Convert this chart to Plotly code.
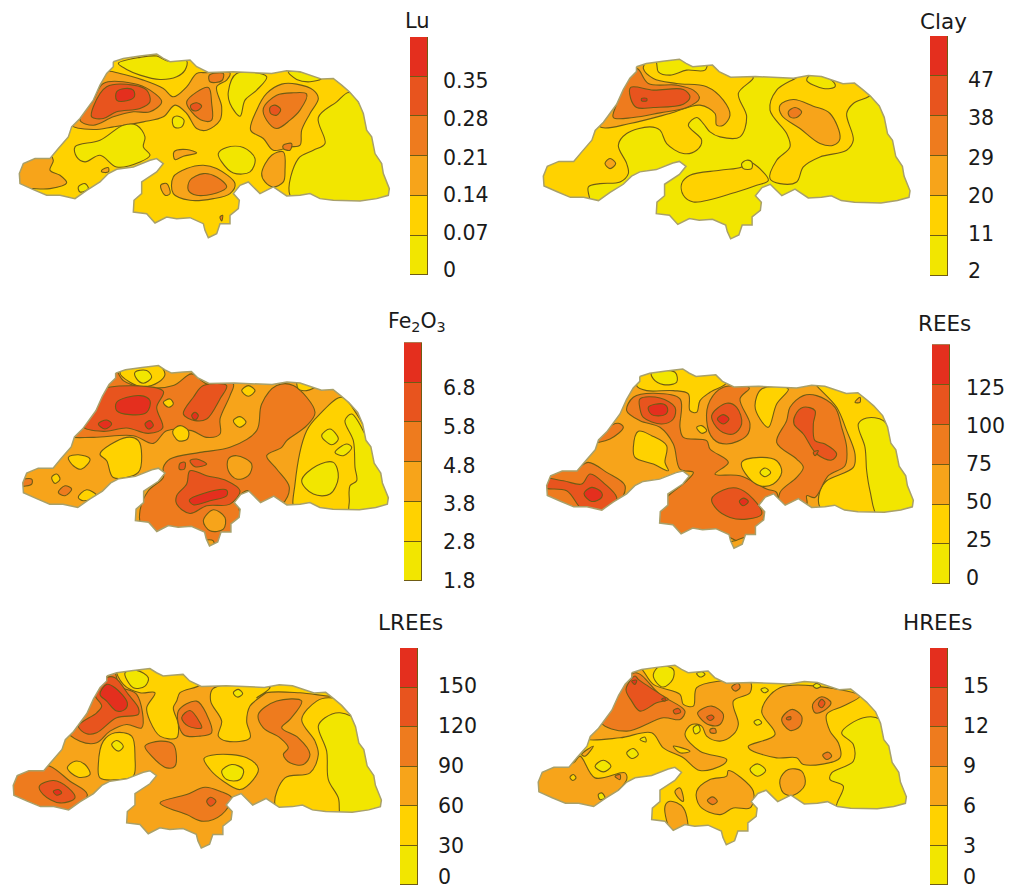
import plotly.graph_objects as go

W, H = 1024, 892
LEVEL_COLORS = ["#F2E600", "#FFD200", "#F7A41A", "#EE7B1E", "#E8541E", "#E42F1E"]
LINE_COLOR = "#6f5c14"
EDGE_COLOR = "#a8a06a"
TEXT = "#1a1a1a"
FONT = "DejaVu Sans"

OUTLINE = [(340,95),(370,85),(420,78),(470,72),(490,85),(510,95),(545,92),(570,90),(590,110),(625,127),(700,125),(760,128),(815,130),
(860,122),(900,125),(965,147),(1000,145),(1025,165),(1048,185),(1075,215),(1090,250),(1100,300),(1115,320),(1125,370),(1145,400),
(1150,430),(1168,475),(1165,495),(1130,505),(1080,512),(1040,512),(1000,510),(960,505),(930,490),(900,495),(860,497),(820,470),
(780,490),(760,470),(745,455),(720,465),(700,490),(718,510),(715,535),(690,555),(690,580),(660,580),(650,610),(625,622),(615,600),
(610,580),(570,562),(530,565),(500,560),(465,578),(440,550),(400,545),(402,510),(425,490),(425,455),(470,425),(490,400),(470,385),
(450,390),(400,410),(350,417),(325,430),(300,455),(260,480),(225,505),(180,495),(140,495),(100,478),(60,460),(58,430),(70,400),
(105,385),(150,385),(175,355),(205,320),(215,290),(240,265),(280,210),(300,165),(320,130),(340,110)]

MAP_LU = [
(0,[(355,100),(420,82),(470,78),(500,92),(560,92),(555,120),(530,140),(480,148),(420,135),(380,118)]),
(2,[(320,125),(360,130),(430,150),(490,175),(520,200),(560,170),(590,130),(620,128),(690,128),(680,150),(650,170),(665,230),(660,270),(620,300),(590,295),(560,250),(525,225),(490,260),(430,275),(340,290),(280,298),(215,285),(260,230),(300,160)]),
(3,[(310,160),(400,160),(450,180),(485,215),(450,245),(400,245),(340,260),(280,285),(240,270),(280,210)]),
(4,[(320,170),(400,165),(440,180),(450,215),(420,235),(350,245),(310,265),(275,260),(280,230)]),
(5,[(350,185),(375,175),(400,180),(403,200),(380,212),(350,210)]),
(3,[(560,215),(625,172),(635,220),(635,270),(610,272),(575,245)]),
(4,[(572,225),(590,218),(605,228),(590,242),(575,238)]),
(3,[(628,135),(670,130),(665,152),(630,155)]),
(0,[(517,275),(520,262),(535,258),(552,270),(545,290),(525,292)]),
(0,[(710,130),(800,140),(770,180),(735,210),(720,258),(690,220),(685,185)]),
(0,[(865,125),(900,125),(965,145),(930,155),(890,148)]),
(2,[(845,162),(890,162),(940,180),(955,205),(930,250),(905,300),(900,345),(870,350),(820,360),(790,325),(752,300),(770,240),(800,190)]),
(3,[(830,195),(880,188),(920,192),(900,240),(870,270),(830,295),(800,270),(790,235)]),
(4,[(810,232),(825,225),(842,238),(830,255),(812,250)]),
(3,[(850,345),(875,340),(870,360),(850,355)]),
(0,[(1048,187),(1010,215),(955,262),(975,340),(940,360),(895,385),(870,495),(930,530),(1100,540),(1190,500),(1150,380),(1100,260)]),
(0,[(225,350),(300,330),(370,285),(410,285),(435,320),(430,350),(450,375),(420,395),(350,410),(300,375),(255,395),(230,380)]),
(2,[(522,365),(560,358),(590,368),(550,378),(525,388)]),
(0,[(655,370),(680,352),(730,352),(765,385),(750,425),(700,428),(665,395)]),
(2,[(40,440),(100,375),(150,375),(160,390),(150,420),(180,435),(200,458),(150,475),(100,475),(50,470)]),
(2,[(305,420),(325,412),(325,425),(305,425)]),
(0,[(235,470),(255,460),(265,475),(240,485)]),
(2,[(520,440),(560,415),(610,405),(650,415),(705,460),(690,490),(640,505),(570,510),(520,490)]),
(3,[(570,450),(610,430),(650,440),(680,470),(650,488),(590,495),(565,480)]),
(2,[(785,430),(815,375),(850,365),(855,420),(850,455),(820,470),(795,455)]),
(2,[(482,465),(500,460),(510,490),(495,495)]),
(3,[(660,560),(668,555),(665,572)]),
]

MAP_CLAY = [
(1,[(380,80),(408,95),(415,125),(450,135),(500,120),(555,120),(570,85),(620,130),(700,142),(655,190),(680,260),(660,320),(600,320),(570,305),(550,280),(530,262),(505,285),(545,330),(530,360),(490,370),(440,340),(420,300),(390,290),(320,310),(295,345),(320,400),(325,430),(300,455),(240,460),(205,470),(210,530),(120,510),(40,480),(50,380),(100,360),(150,380),(240,250),(290,170),(340,90)]),
(2,[(340,100),(380,85),(370,115),(400,145),(470,160),(560,170),(610,210),(630,255),(610,285),(590,285),(585,250),(540,225),(450,250),(330,280),(245,292),(225,270),(280,190)]),
(3,[(350,115),(385,160),(470,165),(520,180),(538,205),(500,232),(420,248),(340,262),(280,262),(290,220),(300,170)]),
(4,[(332,172),(400,180),(490,178),(510,200),(490,222),(400,232),(350,232),(332,205)]),
(5,[(365,205),(380,205),(380,212),(365,212)]),
(1,[(830,142),(860,120),(950,140),(1000,145),(1060,185),(1045,200),(1000,220),(980,250),(1000,330),(980,360),(900,380),(850,410),(830,455),(780,460),(750,445),(770,390),(810,350),(800,310),(750,240),(770,180)]),
(0,[(860,150),(880,130),(940,155),(945,170),(910,175)]),
(2,[(780,225),(820,208),(880,228),(930,250),(960,325),(940,345),(900,340),(840,295),(785,255)]),
(3,[(805,245),(825,232),(845,245),(830,262),(810,260)]),
(2,[(255,400),(270,385),(287,400),(270,415)]),
(1,[(510,435),(600,420),(665,410),(680,395),(700,400),(745,450),(710,465),(650,485),(520,515),(490,495),(485,460)]),
(0,[(665,400),(680,390),(695,395),(695,415),(670,415)]),
]

MAP_FE = [
(1,[(360,95),(470,70),(495,100),(475,125),(430,138),(390,125)]),
(0,[(405,95),(440,90),(455,110),(430,128),(410,115)]),
(3,[(340,80),(370,120),(430,140),(520,135),(575,100),(620,130),(700,130),(690,165),(660,235),(660,280),(620,290),(575,270),(500,270),(460,308),(400,285),(280,290),(205,285),(270,220),(300,150)]),
(4,[(300,150),(490,152),(470,200),(488,262),(445,278),(380,262),(310,272),(250,258),(290,200)]),
(5,[(350,185),(420,165),(450,180),(440,215),(390,222),(350,210)]),
(5,[(295,250),(320,238),(335,250),(315,265)]),
(5,[(435,250),(450,240),(460,255),(445,265)]),
(1,[(490,185),(510,175),(520,190),(505,200)]),
(4,[(610,135),(680,135),(660,175),(620,235),(585,240),(550,220),(580,170)]),
(5,[(575,225),(585,215),(595,225),(585,238)]),
(1,[(725,150),(745,135),(765,150),(745,167)]),
(1,[(700,240),(720,228),(738,245),(718,260)]),
(1,[(518,272),(540,255),(565,270),(562,295),(535,300)]),
(3,[(830,135),(880,135),(945,215),(920,255),(860,300),(845,320),(800,345),(830,385),(868,440),(845,490),(760,490),(745,450),(715,470),(720,530),(700,590),(640,630),(600,620),(600,590),(540,570),(470,590),(425,560),(420,510),(445,450),(490,410),(490,380),(510,355),(600,335),(690,320),(770,270),(785,190)]),
(2,[(685,355),(710,345),(755,370),(745,405),(710,415),(685,390)]),
(4,[(570,390),(620,405),(680,420),(720,450),(690,490),(620,495),(570,518),(530,490),(530,465),(560,430)]),
(5,[(568,478),(610,458),(680,448),(680,465),(630,480),(580,492)]),
(2,[(610,540),(640,507),(675,530),(670,565),(630,570)]),
(4,[(540,368),(555,365),(553,385),(538,385)]),
(4,[(570,360),(590,355),(620,370),(585,378)]),
(2,[(615,600),(640,600),(640,625),(615,625)]),
(1,[(300,340),(380,290),(415,300),(425,345),(415,395),(340,410),(320,360)]),
(1,[(205,350),(235,342),(270,355),(245,385),(220,375)]),
(1,[(155,410),(170,400),(180,415),(165,428)]),
(3,[(175,455),(195,435),(215,445),(195,465)]),
(1,[(235,470),(260,447),(290,465),(250,480)]),
(3,[(60,420),(95,415),(95,430),(60,435)]),
(1,[(1025,170),(1070,220),(1110,300),(1130,380),(1190,480),(1100,530),(960,530),(885,510),(885,430),(920,270),(960,220)]),
(0,[(1035,240),(1055,220),(1095,280),(1115,320),(1145,400),(1190,485),(1130,520),(1050,520),(1048,480),(1050,435),(1070,420),(1065,380),(1060,300)]),
(0,[(905,420),(950,375),(1000,365),(1015,410),(990,460),(940,460)]),
(0,[(965,285),(990,265),(1015,295),(995,312)]),
(0,[(1005,335),(1040,310),(1055,320),(1030,345)]),
(1,[(893,115),(950,135),(920,150),(895,145)]),
]

MAP_REE = [
(1,[(350,135),(385,80),(480,75),(510,90),(570,80),(620,125),(570,155),(540,180),(530,215),(510,210),(505,160),(460,150),(380,150)]),
(0,[(395,95),(465,95),(470,125),(430,132),(400,115)]),
(3,[(320,210),(340,170),(400,158),(480,175),(480,260),(490,290),(560,300),(570,325),(625,365),(585,400),(660,405),(740,445),(770,455),(770,490),(735,520),(715,600),(650,600),(630,590),(570,570),(520,570),(485,600),(470,570),(400,560),(420,500),(440,470),(500,420),(520,395),(480,385),(460,310),(420,260),(360,240)]),
(4,[(360,175),(420,172),(465,200),(460,235),(425,250),(370,230),(360,205)]),
(5,[(385,200),(430,190),(443,205),(435,222),(395,222)]),
(3,[(610,140),(688,142),(660,175),(690,250),(680,285),(620,310),(580,295),(560,240),(570,180)]),
(4,[(575,225),(620,188),(650,200),(665,250),(640,280),(600,270)]),
(5,[(592,235),(610,222),(627,235),(610,250)]),
(1,[(530,260),(545,255),(560,270),(545,278)]),
(1,[(725,145),(805,145),(770,190),(745,260),(720,235),(705,195)]),
(1,[(880,120),(905,120),(945,140),(1020,140),(1120,240),(1130,310),(1150,370),(1200,490),(1100,540),(950,530),(900,500),(900,450),(920,420),(1000,380),(1005,340),(980,270),(950,200)]),
(3,[(850,165),(890,165),(945,200),(965,260),(980,320),(975,375),(925,405),(885,470),(860,465),(860,490),(780,490),(780,455),(830,410),(850,380),(830,355),(770,305),(800,240),(810,200)]),
(4,[(825,225),(850,200),(885,210),(880,250),(885,300),(915,310),(950,340),(935,358),(890,340),(850,280),(822,250)]),
(4,[(880,335),(895,330),(885,345)]),
(0,[(1015,250),(1040,232),(1090,240),(1130,310),(1150,370),(1200,490),(1130,530),(1075,530),(1050,450),(1040,390),(1035,320)]),
(2,[(1005,185),(1020,170),(1020,185)]),
(1,[(340,320),(355,272),(395,285),(440,315),(435,365),(445,390),(400,370),(345,350)]),
(3,[(215,305),(255,265),(295,248),(310,260),(270,295)]),
(3,[(70,415),(130,375),(165,385),(205,365),(260,395),(315,435),(295,490),(250,520),(170,520),(120,500),(65,470)]),
(4,[(70,415),(130,420),(185,430),(210,400),(255,430),(290,470),(280,495),(220,515),(185,505),(140,450),(70,440)]),
(5,[(192,458),(215,440),(245,455),(245,470),(215,482)]),
(4,[(575,475),(610,448),(650,442),(700,475),(725,520),(680,535),(630,530),(590,505)]),
(5,[(658,482),(670,472),(685,482),(670,495)]),
(1,[(665,365),(720,350),(770,360),(785,395),(760,430),(720,435),(685,410)]),
(0,[(720,395),(735,382),(752,395),(735,408)]),
(2,[(620,610),(650,598),(700,585),(690,630),(620,630)]),
]

MAP_LREE = [
(1,[(350,50),(440,35),(470,60),(530,50),(600,100),(540,125),(530,150),(520,170),(535,220),(530,260),(480,255),(450,210),(440,170),(465,125),(420,125),(370,100)]),
(0,[(375,65),(410,58),(445,80),(435,105),(400,110)]),
(3,[(320,65),(340,55),(360,105),(410,130),(425,230),(380,220),(330,240),(290,275),(240,270),(200,235),(270,150),(290,120)]),
(4,[(320,80),(345,80),(385,130),(415,170),(415,190),(350,200),(290,245),(260,248),(235,225),(290,185),(305,165),(285,130)]),
(5,[(300,130),(320,100),(345,110),(382,155),(375,175),(350,180),(320,150)]),
(3,[(535,180),(590,150),(620,190),(635,245),(600,255),(550,250)]),
(4,[(545,200),(570,178),(600,215),(605,230),(565,225)]),
(1,[(640,112),(810,110),(750,165),(740,210),(750,260),(680,270),(655,255),(665,210),(632,150)]),
(0,[(700,125),(715,115),(728,128),(712,138)]),
(3,[(775,190),(830,150),(905,150),(870,205),(845,230),(895,260),(930,310),(910,340),(870,335),(850,310),(865,290),(840,260),(790,230)]),
(1,[(810,110),(810,85),(880,85),(1000,135),(900,125),(800,125),(770,140)]),
(1,[(985,140),(1040,155),(1080,200),(1120,340),(1165,465),(1100,510),(950,510),(860,490),(825,460),(855,380),(930,365),(955,310),(945,270),(905,205),(950,150)]),
(0,[(955,225),(975,200),(1020,185),(1080,215),(1095,290),(1120,340),(1165,465),(1090,505),(1025,505),(1015,440),(985,385),(980,300)]),
(1,[(295,340),(310,270),(345,245),(395,255),(405,320),(400,375),(360,385),(300,380)]),
(0,[(335,280),(350,268),(370,285),(355,300)]),
(1,[(202,350),(225,330),(255,340),(270,370),(235,378)]),
(3,[(435,285),(480,270),(520,280),(525,345),(500,350),(455,315)]),
(3,[(150,345),(210,390),(262,430),(215,480),(140,490),(20,440),(35,375),(100,340)]),
(4,[(118,405),(160,388),(205,410),(225,440),(180,455),(130,430)]),
(5,[(160,420),(175,415),(185,425),(170,432)]),
(3,[(480,455),(560,430),(615,408),(660,420),(695,440),(665,490),(610,510),(560,490)]),
(4,[(620,450),(632,438),(648,450),(632,465)]),
(1,[(612,322),(650,310),(740,320),(775,352),(760,385),(720,415),(670,390),(630,355)]),
(0,[(665,360),(695,340),(730,355),(720,385),(680,385)]),
]

MAP_HREE = [
(0,[(400,70),(420,45),(460,55),(458,85),(430,108),(410,95)]),
(2,[(335,50),(360,50),(400,100),(480,130),(490,160),(520,165),(530,110),(600,90),(690,90),(690,125),(640,150),(655,220),(640,250),(600,270),(560,255),(545,225),(515,220),(495,250),(540,300),(620,325),(610,340),(540,358),(490,320),(430,290),(395,245),(300,260),(195,262),(200,240),(280,140)]),
(1,[(460,285),(510,300),(480,305)]),
(3,[(345,65),(420,130),(495,180),(480,205),(430,200),(320,240),(245,215),(280,150)]),
(4,[(345,75),(355,85),(430,135),(445,145),(410,155),(360,180),(335,150),(318,115)]),
(5,[(335,90),(350,88),(345,100)]),
(5,[(425,145),(435,140),(435,150)]),
(4,[(460,178),(475,172),(482,183),(465,188)]),
(3,[(533,185),(575,165),(610,190),(600,220),(570,222),(540,200)]),
(4,[(560,198),(575,192),(582,200),(570,208)]),
(3,[(570,235),(585,232),(588,245),(572,245)]),
(3,[(635,108),(655,97),(660,110),(645,120)]),
(0,[(520,230),(535,222),(540,240),(525,248)]),
(2,[(780,110),(980,120),(1020,135),(970,165),(920,190),(930,240),(955,275),(960,320),(850,340),(830,320),(770,320),(690,295),(685,285),(765,250),(725,180)]),
(3,[(785,205),(815,175),(845,195),(840,225),(810,238)]),
(4,[(800,200),(812,197),(812,205),(800,205)]),
(3,[(878,160),(905,137),(933,155),(910,180),(885,185)]),
(4,[(895,160),(905,145),(915,155),(905,170)]),
(3,[(908,312),(925,303),(935,315),(920,325)]),
(2,[(780,385),(805,355),(845,360),(855,400),(820,432),(790,425)]),
(0,[(965,245),(1030,200),(1080,205),(1120,300),(1180,480),(1030,490),(950,470),(970,405),(930,385),(935,365),(1000,330),(1000,280)]),
(2,[(35,400),(80,335),(160,335),(180,315),(225,380),(315,365),(320,385),(270,440),(200,490),(130,470),(40,430)]),
(2,[(185,310),(220,285),(195,315)]),
(0,[(225,345),(250,327),(273,345),(250,362)]),
(0,[(320,305),(340,292),(355,310),(335,322)]),
(0,[(690,355),(712,338),(737,358),(712,375)]),
(0,[(360,265),(375,258),(378,272)]),
(1,[(150,378),(160,370),(168,380),(158,388)]),
(3,[(285,375),(300,370),(300,385)]),
(0,[(235,430),(245,425),(255,440),(240,445)]),
(2,[(530,420),(570,385),(620,375),(625,358),(700,420),(690,470),(640,470),(600,490),(540,465)]),
(3,[(562,448),(578,437),(592,450),(578,460)]),
(2,[(435,465),(450,450),(490,470),(500,550),(460,550)]),
(2,[(465,420),(480,410),(490,450),(475,440)]),
(0,[(702,212),(715,205),(725,215),(710,222)]),
(0,[(723,115),(735,110),(745,118),(733,125)]),
(0,[(530,67),(545,62),(555,70),(540,78)]),
(0,[(880,105),(890,97),(902,105),(890,112)]),
]

TITLES = ["Lu", "Clay", "Fe<sub>2</sub>O<sub>3</sub>", "REEs", "LREEs", "HREEs"]
TICK_LABELS = [["0","0.07","0.14","0.21","0.28","0.35"],["2","11","20","29","38","47"],["1.8","2.8","3.8","4.8","5.8","6.8"],
               ["0","25","50","75","100","125"],["0","30","60","90","120","150"],["0","3","6","9","12","15"]]
TICK_POS = [[0.13,1.06,2.02,2.97,3.95,4.91],[0.15,1.07,2.02,2.97,3.95,4.9],[0.0,0.98,1.94,2.9,3.88,4.87],
            [0.15,1.1,2.06,3.02,3.97,4.92],[0.22,1.01,2.0,3.01,4.03,5.04],[0.22,1.01,2.0,3.01,4.03,5.04]]
SEGMENTS = [1, 1, 1, 1, 1, 1]
MAPS = [MAP_LU, MAP_CLAY, MAP_FE, MAP_REE, MAP_LREE, MAP_HREE]
BASE_LEVEL = [1, 0, 2, 2, 2, 1]

# layout constants, px of the photographed page
OFF = 8
VSCALE = 0.985
PANEL_ORIGIN = [(0,30),(520,30),(0,340),(520,340),(0,650),(520,650)]
OUTLINE_FIT = [(1,0,1,0),(0.991,12.5,0.978,17),(0.988,11,0.982,4.3),(0.991,22.5,0.976,15),(0.995,-18,0.978,-18),(0.995,-3,0.978,-28)]
BAR_RECT = [(410,428,37,275),(930,948,36,276),(404,422,342,580),(932,950,344,583),(400,418,647,884),(930,948,647,884)]
STANDOFF = [14,19,20,15,19,14]
TITLE_POS = [(417,21),(943,21),(417,322),(944,323),(410,622),(937,622)]
TITLE_SIZE = [21, 21.5, 20.5, 21.5, 21.5, 21.5]

def PX(x): return (x - OFF) / W
def PY(y): return 1 - (y - OFF) / (VSCALE * H)

fig = go.Figure()
layout = {}
annots = []

def ax(i): return ("" if i == 1 else str(i))

for p in range(6):
    m = 2 * p + 1
    b = 2 * p + 2
    ox, oy = PANEL_ORIGIN[p]
    left = max(ox, OFF)
    layout[f"xaxis{ax(m)}"] = dict(domain=[PX(left), PX(ox+400)], range=[(left-ox)*3,1200], visible=False, anchor=f"y{ax(m)}", fixedrange=True)
    layout[f"yaxis{ax(m)}"] = dict(domain=[PY(oy+220), PY(oy)], range=[660,0], visible=False, anchor=f"x{ax(m)}", fixedrange=True)
    sx, dx, sy, dy = OUTLINE_FIT[p]
    ol = [(sx*x+dx, sy*y+dy) for x, y in OUTLINE]
    olx = [q[0] for q in ol] + [ol[0][0]]
    oly = [q[1] for q in ol] + [ol[0][1]]
    xa, ya = f"x{ax(m)}", f"y{ax(m)}"
    fig.add_trace(go.Scatter(x=olx, y=oly, mode="lines", fill="toself", fillcolor=LEVEL_COLORS[BASE_LEVEL[p]],
                             line=dict(width=0), xaxis=xa, yaxis=ya, hoverinfo="skip", showlegend=False))
    for lev, pts in MAPS[p]:
        xs = [q[0] for q in pts] + [pts[0][0]]
        ys = [q[1] for q in pts] + [pts[0][1]]
        fig.add_trace(go.Scatter(x=xs, y=ys, mode="lines", fill="toself", fillcolor=LEVEL_COLORS[lev],
                                 line=dict(color=LINE_COLOR, width=1.1, shape="spline", smoothing=1),
                                 xaxis=xa, yaxis=ya, hoverinfo="skip", showlegend=False))
    # white surround, wound against the outline, so that the regions end at the state border
    mx = [-50] + olx + [-50, -50, 1250, 1250, -50]
    my = [-50] + oly + [-50, 710, 710, -50, -50]
    fig.add_trace(go.Scatter(x=mx, y=my, mode="lines", fill="toself", fillcolor="white", line=dict(width=0),
                             xaxis=xa, yaxis=ya, hoverinfo="skip", showlegend=False))
    fig.add_trace(go.Scatter(x=olx, y=oly, mode="lines", line=dict(color=EDGE_COLOR, width=1.5),
                             xaxis=xa, yaxis=ya, hoverinfo="skip", showlegend=False))
    # legend bar
    x0, x1, y0, y1 = BAR_RECT[p]
    layout[f"xaxis{ax(b)}"] = dict(domain=[PX(x0), PX(x1)], range=[-0.5,0.5], visible=False, anchor=f"y{ax(b)}", fixedrange=True)
    layout[f"yaxis{ax(b)}"] = dict(domain=[PY(y1), PY(y0)], range=[0,6], side="right", anchor=f"x{ax(b)}", fixedrange=True,
                                   showgrid=False, zeroline=False, showline=False, ticks="", tickmode="array",
                                   tickvals=TICK_POS[p], ticktext=TICK_LABELS[p], ticklabelstandoff=STANDOFF[p],
                                   tickfont=dict(family=FONT, size=20.5, color=TEXT))
    for lev, seg in enumerate(SEGMENTS):
        fig.add_trace(go.Bar(x=[0], y=[seg], width=1, marker=dict(color=LEVEL_COLORS[lev], line=dict(color=LINE_COLOR, width=1)),
                             xaxis=f"x{ax(b)}", yaxis=f"y{ax(b)}", hoverinfo="skip", showlegend=False))
    tx, ty = TITLE_POS[p]
    annots.append(dict(x=PX(tx), y=PY(ty), xref="paper", yref="paper", text=TITLES[p], showarrow=False,
                       xanchor="center", yanchor="middle", font=dict(family=FONT, size=TITLE_SIZE[p], color=TEXT)))

fig.update_layout(width=W, height=H, margin=dict(l=0,r=0,t=0,b=0), paper_bgcolor="white", plot_bgcolor="rgba(0,0,0,0)",
                  barmode="stack", bargap=0, showlegend=False, annotations=annots, **layout)
fig.write_html("out.html")
